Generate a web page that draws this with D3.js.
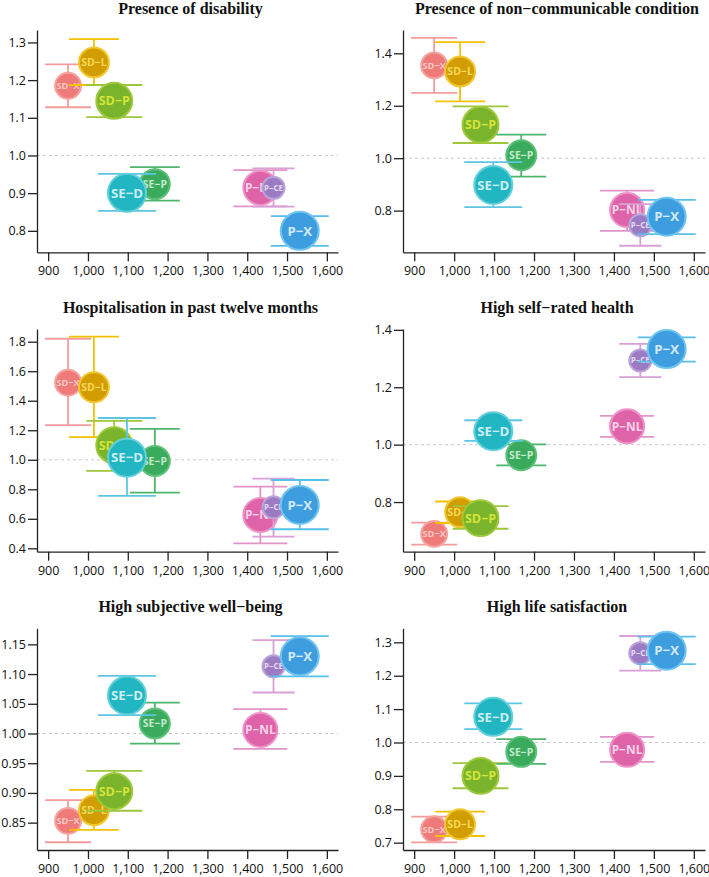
<!DOCTYPE html>
<html>
<head>
<meta charset="utf-8">
<script src="https://cdn.jsdelivr.net/npm/d3@7"></script>
<style>
  body { margin: 0; background: #fff; }
  .tick text { font-family: "Open Sans", sans-serif; font-size: 12.5px; fill: #111; }
  .title { font-family: "Liberation Serif", serif; font-weight: bold; font-size: 16px; fill: #111; }
  .lbl { font-family: "Open Sans", sans-serif; font-weight: 700; }
</style>
</head>
<body>
<script>
const w = 709;
const h = 877;

// groups in drawing order
const groups = ["SD−X", "SD−L", "SD−P", "SE−P", "SE−D", "P−NL", "P−CE", "P−X"];
const meanIncome = [950, 1015, 1066, 1168, 1098, 1433, 1466, 1532];
const groupShare = [7.8, 10.2, 14.4, 10.2, 16, 13, 5.8, 16];

const xTicks = [900, 1000, 1100, 1200, 1300, 1400, 1500, 1600];

const titles = [
  "Presence of disability",
  "Presence of non−communicable condition",
  "Hospitalisation in past twelve months",
  "High self−rated health",
  "High subjective well−being",
  "High life satisfaction",
];

const disabilityEst = [1.185, 1.247, 1.145, 0.924, 0.901, 0.914, 0.914, 0.8];
const disabilityLo = [1.128, 1.187, 1.102, 0.88, 0.853, 0.865, 0.864, 0.76];
const disabilityHi = [1.242, 1.309, 1.187, 0.969, 0.951, 0.961, 0.966, 0.839];

const ncdEst = [1.354, 1.331, 1.128, 1.011, 0.898, 0.802, 0.744, 0.777];
const ncdLo = [1.249, 1.217, 1.058, 0.93, 0.813, 0.723, 0.666, 0.71];
const ncdHi = [1.459, 1.443, 1.198, 1.09, 0.985, 0.876, 0.825, 0.841];

const hospEst = [1.522, 1.491, 1.098, 0.992, 1.014, 0.626, 0.678, 0.694];
const hospLo = [1.234, 1.154, 0.924, 0.777, 0.755, 0.434, 0.479, 0.529];
const hospHi = [1.82, 1.834, 1.263, 1.209, 1.283, 0.818, 0.872, 0.863];

const healthEst = [0.689, 0.765, 0.744, 0.963, 1.047, 1.064, 1.293, 1.333];
const healthLo = [0.652, 0.727, 0.707, 0.928, 1.013, 1.027, 1.235, 1.289];
const healthHi = [0.728, 0.802, 0.786, 1.001, 1.085, 1.1, 1.351, 1.374];

const wellbeingEst = [0.853, 0.871, 0.903, 1.017, 1.064, 1.006, 1.113, 1.13];
const wellbeingLo = [0.817, 0.838, 0.87, 0.983, 1.031, 0.974, 1.069, 1.096];
const wellbeingHi = [0.888, 0.905, 0.937, 1.052, 1.097, 1.041, 1.157, 1.164];

const lifeEst = [0.74, 0.755, 0.9, 0.972, 1.077, 0.978, 1.267, 1.275];
const lifeLo = [0.701, 0.72, 0.863, 0.936, 1.04, 0.942, 1.215, 1.235];
const lifeHi = [0.778, 0.793, 0.938, 1.01, 1.117, 1.017, 1.319, 1.317];

const yTicks = [
  [0.8, 0.9, 1.0, 1.1, 1.2, 1.3],
  [0.8, 1.0, 1.2, 1.4],
  [0.4, 0.6, 0.8, 1.0, 1.2, 1.4, 1.6, 1.8],
  [0.8, 1.0, 1.2, 1.4],
  [0.85, 0.9, 0.95, 1.0, 1.05, 1.1, 1.15],
  [0.7, 0.8, 0.9, 1.0, 1.1, 1.2, 1.3],
];
const yFormats = [".1f", ".1f", ".1f", ".1f", ".2f", ".1f"];
const yDomains = [
  [0.743, 1.333],
  [0.641, 1.489],
  [0.377, 1.886],
  [0.627, 1.403],
  [0.804, 1.177],
  [0.678, 1.342],
];

// styling
const fillColors = ["#EE7B79", "#D19D00", "#79B42C", "#3AAA5C", "#22B5C2", "#DE63A8", "#9B7CC2", "#3D9DDF"];
const ringColors = ["#F5A3A0", "#F2C82E", "#9FC93A", "#5EC07A", "#62D0DA", "#EE93C8", "#BBA3DA", "#70C4F0"];
const errColors = ["#F29C9C", "#F2C200", "#9EC63A", "#4EB56E", "#5CC6E2", "#E194C8", "#D9A0D6", "#57BFEA"];
const textColors = ["#F8C6C4", "#F6D75A", "#D5E33A", "#C5EACC", "#CDEFF2", "#F8D2E8", "#E6DAF2", "#D3EAFB"];

const panels = [
  { est: disabilityEst, lo: disabilityLo, hi: disabilityHi },
  { est: ncdEst, lo: ncdLo, hi: ncdHi },
  { est: hospEst, lo: hospLo, hi: hospHi },
  { est: healthEst, lo: healthLo, hi: healthHi },
  { est: wellbeingEst, lo: wellbeingLo, hi: wellbeingHi },
  { est: lifeEst, lo: lifeLo, hi: lifeHi },
];

const colX = [[37, 338], [403, 705]];
const rowY = [[30, 252.3], [329, 551.7], [628.3, 850]];

const rScale = d3.scaleSqrt().domain([0, 16]).range([0, 20]);

const svg = d3.select("body").append("svg").attr("width", w).attr("height", h);

const drawPanel = (p, i) => {
  const [x0, x1] = colX[i % 2];
  const [top, bottom] = rowY[Math.floor(i / 2)];
  const xScale = d3.scaleLinear().domain([872, 1628]).range([x0, x1]);
  const yScale = d3.scaleLinear().domain(yDomains[i]).range([bottom, top]);
  const g = svg.append("g");

  // reference line at 1
  g.append("line")
    .attr("x1", x0).attr("x2", x1)
    .attr("y1", yScale(1)).attr("y2", yScale(1))
    .attr("stroke", "#c4c4c4").attr("stroke-width", 0.9)
    .attr("stroke-dasharray", "3,3");

  const data = groups.map((name, j) => ({
    name, j,
    x: meanIncome[j],
    r: rScale(groupShare[j]),
    est: p.est[j], lo: p.lo[j], hi: p.hi[j],
  }));

  const grp = g.selectAll("g.pt").data(data).enter().append("g").attr("class", "pt");
  grp.append("line")
    .attr("x1", (d) => xScale(d.x)).attr("x2", (d) => xScale(d.x))
    .attr("y1", (d) => yScale(d.lo)).attr("y2", (d) => yScale(d.hi))
    .attr("stroke", (d) => errColors[d.j]).attr("stroke-width", 1.8);
  ["lo", "hi"].forEach((k) => {
    grp.append("line")
      .attr("x1", (d) => xScale(d.x) - d.r - 9).attr("x2", (d) => xScale(d.x) + d.r + 9)
      .attr("y1", (d) => yScale(d[k])).attr("y2", (d) => yScale(d[k]))
      .attr("stroke", (d) => errColors[d.j]).attr("stroke-width", 1.8);
  });
  grp.append("circle")
    .attr("cx", (d) => xScale(d.x)).attr("cy", (d) => yScale(d.est))
    .attr("r", (d) => d.r - 1)
    .attr("fill", (d) => fillColors[d.j])
    .attr("stroke", (d) => ringColors[d.j]).attr("stroke-width", 2);
  grp.append("text")
    .attr("class", "lbl")
    .attr("x", (d) => xScale(d.x)).attr("y", (d) => yScale(d.est))
    .attr("dy", "0.36em")
    .attr("text-anchor", "middle")
    .style("font-size", (d) => (d.r * 0.66).toFixed(1) + "px")
    .attr("fill", (d) => textColors[d.j])
    .text((d) => d.name);

  // axes
  const xAxis = d3.axisBottom(xScale).tickValues(xTicks).tickFormat(d3.format(","))
    .tickSize(9).tickSizeOuter(0).tickPadding(5);
  g.append("g").attr("transform", `translate(0, ${bottom})`).call(xAxis);
  const yAxis = d3.axisLeft(yScale).tickValues(yTicks[i]).tickFormat(d3.format(yFormats[i]))
    .tickSize(9).tickSizeOuter(0).tickPadding(2);
  g.append("g").attr("transform", `translate(${x0}, 0)`).call(yAxis);
  g.selectAll(".domain, .tick line").attr("stroke", "#222").attr("stroke-width", 1.3);

  g.append("text")
    .attr("class", "title")
    .attr("x", (x0 + x1) / 2 + 3)
    .attr("y", top - 16)
    .attr("text-anchor", "middle")
    .text(titles[i]);
};

panels.forEach(drawPanel);
</script>
</body>
</html>
